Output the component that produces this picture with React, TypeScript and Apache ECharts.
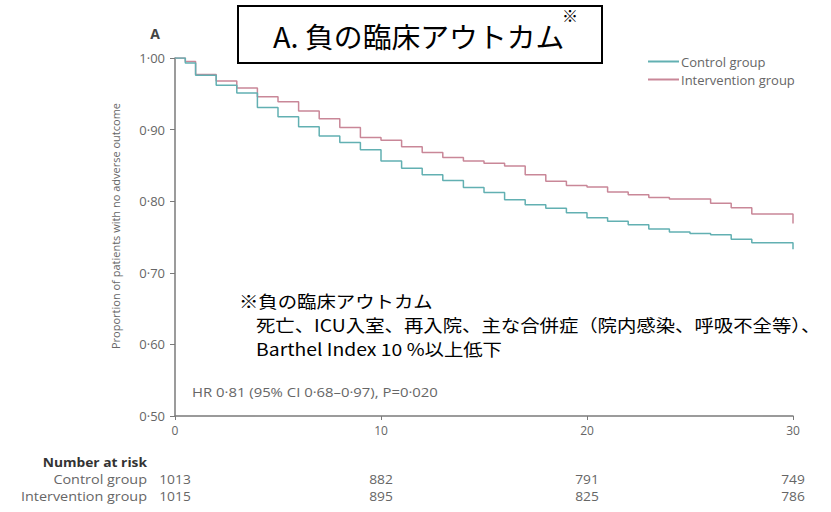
import React, { useEffect, useRef } from "react";
import * as echarts from "echarts";

const controlTimes = [0, 0.5, 1, 2, 3, 4, 5, 6, 7, 8, 9, 10, 11, 12, 13, 14, 15, 16, 17, 18, 19, 20, 21, 22, 23, 24, 25, 26, 27, 28, 30];
const controlSurvival = [1.0, 0.993, 0.976, 0.962, 0.951, 0.931, 0.918, 0.904, 0.891, 0.882, 0.872, 0.856, 0.846, 0.837, 0.829, 0.819, 0.812, 0.802, 0.795, 0.79, 0.784, 0.777, 0.772, 0.767, 0.761, 0.757, 0.755, 0.753, 0.747, 0.742, 0.733];
const interventionTimes = [0, 0.5, 1, 2, 3, 4, 5, 6, 7, 8, 9, 10, 11, 12, 13, 14, 15, 16, 17, 18, 19, 20, 21, 22, 23, 24, 26, 27, 28, 30];
const interventionSurvival = [1.0, 0.995, 0.977, 0.968, 0.958, 0.946, 0.939, 0.926, 0.915, 0.903, 0.889, 0.885, 0.876, 0.868, 0.861, 0.856, 0.853, 0.849, 0.837, 0.828, 0.822, 0.82, 0.813, 0.809, 0.805, 0.803, 0.797, 0.791, 0.782, 0.769];

const riskTimes = [0, 10, 20, 30];
const controlRisk = [1013, 882, 791, 749];
const interventionRisk = [1015, 895, 825, 786];

const seriesNames = ["Control group", "Intervention group"];
const colors = ["#62b0b2", "#c98798"];

const GRAY = "#666";
const LATIN = "'Open Sans', 'Noto Sans', sans-serif";
const JP = "'Noto Sans CJK JP', sans-serif";

export default function App() {
  const ref = useRef<HTMLDivElement>(null);
  useEffect(() => {
    if (!ref.current) return;
    const chart = echarts.init(ref.current, undefined, { renderer: "svg" });
    const mk = (ts: number[], vs: number[]) => ts.map((t, i) => [t, vs[i]]);
    chart.setOption({
      animation: false,
      backgroundColor: "#fff",
      grid: { left: 175, right: 38, top: 58, bottom: 96, containLabel: false },
      legend: {
        orient: "vertical",
        left: 643,
        top: 50,
        itemWidth: 31,
        itemHeight: 2,
        itemGap: 5,
        icon: "rect",
        textStyle: { color: GRAY, fontSize: 13, fontFamily: LATIN, padding: [0, 0, 0, -3] },
        data: seriesNames,
      },
      xAxis: {
        type: "value",
        min: 0,
        max: 30,
        interval: 10,
        splitLine: { show: false },
        axisLine: { show: true, lineStyle: { color: "#7a7a7a", width: 1.5 } },
        axisTick: { show: true, length: 4, lineStyle: { color: "#7a7a7a" } },
        axisLabel: { color: GRAY, fontSize: 12, fontFamily: LATIN, margin: 8 },
      },
      yAxis: {
        type: "value",
        min: 0.5,
        max: 1.0,
        interval: 0.1,
        splitLine: { show: false },
        axisLine: { show: true, lineStyle: { color: "#7a7a7a", width: 1.5 } },
        axisTick: { show: true, length: 5, lineStyle: { color: "#7a7a7a" } },
        axisLabel: {
          color: GRAY,
          fontSize: 13,
          fontFamily: LATIN,
          margin: 10,
          formatter: (v: number) => v.toFixed(2).replace(".", "·"),
        },
      },
      series: [
        {
          name: seriesNames[0],
          type: "line",
          step: "end",
          symbol: "none",
          lineStyle: { color: colors[0], width: 1.5 },
          itemStyle: { color: colors[0] },
          data: mk(controlTimes, controlSurvival),
          z: 3,
        },
        {
          name: seriesNames[1],
          type: "line",
          step: "end",
          symbol: "none",
          lineStyle: { color: colors[1], width: 1.5 },
          itemStyle: { color: colors[1] },
          data: mk(interventionTimes, interventionSurvival),
          z: 2,
        },
      ],
    });

    const riskTexts: any[] = [];
    riskTimes.forEach((t, i) => {
      const px = chart.convertToPixel({ xAxisIndex: 0 }, t) as number;
      riskTexts.push({
        type: "text",
        x: px,
        y: 479,
        scaleX: 1.15,
        style: { text: String(controlRisk[i]), fill: GRAY, font: `12px ${LATIN}`, align: "center", verticalAlign: "middle" },
      });
      riskTexts.push({
        type: "text",
        x: px,
        y: 496,
        scaleX: 1.15,
        style: { text: String(interventionRisk[i]), fill: GRAY, font: `12px ${LATIN}`, align: "center", verticalAlign: "middle" },
      });
    });

    const noteFont = `17px ${JP}`;
    chart.setOption({
      graphic: [
        {
          type: "text",
          x: 155,
          y: 33,
          style: { text: "A", fill: "#444", font: `bold 14px ${LATIN}`, align: "center", verticalAlign: "middle" },
        },
        {
          type: "rect",
          shape: { x: 238, y: 6, width: 364, height: 57 },
          style: { fill: "#fff", stroke: "#000", lineWidth: 2 },
        },
        {
          type: "text",
          x: 273,
          y: 36,
          scaleX: 1.03,
          style: { text: "A. 負の臨床アウトカム", fill: "#000", font: `28px ${JP}`, align: "left", verticalAlign: "middle" },
        },
        {
          type: "text",
          x: 562,
          y: 15,
          style: { text: "※", fill: "#000", font: `16px ${JP}`, align: "left", verticalAlign: "middle" },
        },
        {
          type: "text",
          x: 115,
          y: 226,
          rotation: Math.PI / 2,
          style: {
            text: "Proportion of patients with no adverse outcome",
            fill: GRAY,
            font: `11px ${LATIN}`,
            align: "center",
            verticalAlign: "middle",
          },
        },
        {
          type: "text",
          x: 239,
          y: 301,
          scaleX: 1.14,
          style: { text: "※負の臨床アウトカム", fill: "#000", font: noteFont, align: "left", verticalAlign: "middle" },
        },
        {
          type: "text",
          x: 256,
          y: 325,
          scaleX: 1.14,
          style: {
            text: "死亡、ICU入室、再入院、主な合併症（院内感染、呼吸不全等）、",
            fill: "#000",
            font: noteFont,
            align: "left",
            verticalAlign: "middle",
          },
        },
        {
          type: "text",
          x: 256,
          y: 349,
          scaleX: 1.14,
          style: { text: "Barthel Index 10 %以上低下", fill: "#000", font: noteFont, align: "left", verticalAlign: "middle" },
        },
        {
          type: "text",
          x: 192,
          y: 393,
          scaleX: 1.24,
          style: {
            text: "HR 0·81 (95% CI 0·68–0·97), P=0·020",
            fill: GRAY,
            font: `12px ${LATIN}`,
            align: "left",
            verticalAlign: "middle",
          },
        },
        {
          type: "text",
          x: 147,
          y: 462,
          scaleX: 1.15,
          style: { text: "Number at risk", fill: "#333", font: `bold 12px ${LATIN}`, align: "right", verticalAlign: "middle" },
        },
        {
          type: "text",
          x: 147,
          y: 479,
          scaleX: 1.2,
          style: { text: "Control group", fill: GRAY, font: `12px ${LATIN}`, align: "right", verticalAlign: "middle" },
        },
        {
          type: "text",
          x: 147,
          y: 496,
          scaleX: 1.2,
          style: { text: "Intervention group", fill: GRAY, font: `12px ${LATIN}`, align: "right", verticalAlign: "middle" },
        },
        ...riskTexts,
      ],
    });
    return () => chart.dispose();
  }, []);
  return <div ref={ref} style={{ width: 831, height: 512, position: "absolute", left: 0, top: 0 }} />;
}
